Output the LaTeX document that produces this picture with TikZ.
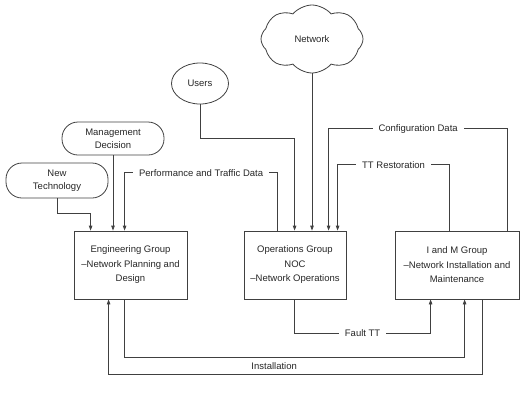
\documentclass[tikz,border=0pt]{standalone}
\usepackage{fontspec}
\setmainfont{Liberation Sans}
\usetikzlibrary{arrows.meta,shapes.geometric,shapes.symbols}

\begin{document}
\begin{tikzpicture}[x=1pt,y=-1pt,
  line/.style={line width=0.8pt, draw=black!75},
  flow/.style={line, -{Triangle[length=5pt,width=3.5pt]}},
  group/.style={line, rectangle, align=center, inner sep=0pt, minimum height=68pt},
  source/.style={line, rounded corners=16pt, minimum width=102pt, align=center, font=\fontsize{9.5}{13}\selectfont},
  lbl/.style={fill=white, inner xsep=6pt, inner ysep=1pt},
  font=\fontsize{9.5}{14.5}\selectfont, text=black!85]
\useasboundingbox (0,0) rectangle (526,402);

% groups
\node[group, minimum width=113pt] (eng) at (130.5,265) {Engineering Group\\--Network Planning and\\Design};
\node[group, minimum width=102pt] (ops) at (295,265) {Operations Group\\NOC\\--Network Operations};
\node[group, minimum width=124pt] (im) at (457,265) {I and M Group\\--Network Installation and\\Maintenance};

% inputs
\node[source, minimum height=33pt] (mgmt) at (113,138.5) {Management\\Decision};
\node[source, minimum height=35pt] (newtech) at (57,180.5) {New\\Technology};
\node[line, ellipse, minimum width=57pt, minimum height=41pt] (users) at (200,83.5) {Users};
\node[line, cloud, cloud puffs=8, cloud puff arc=100, aspect=1.5, minimum width=102pt, minimum height=68pt] (net) at (312,39) {Network};

\draw[flow] (newtech.south) -- ++(0,14.5) -| ([xshift=17pt]eng.north west);
\draw[flow] (mgmt.south) -- (mgmt.south |- eng.north);
\draw[flow] ([xshift=34pt]ops.north west) -- ++(0,-58) -| node[lbl, pos=0.25] {Performance and Traffic Data} ([xshift=51pt]eng.north west);
\draw[flow] (users.south) -- ++(0,34) -| ([xshift=51pt]ops.north west);
\draw[flow] (net.south) -- (net.south |- ops.north);
\draw[flow] ([xshift=113pt]im.north west) -- ++(0,-102) -| node[lbl, pos=0.25] {Configuration Data} ([xshift=85pt]ops.north west);
\draw[flow] ([xshift=55pt]im.north west) -- ++(0,-66) -| node[lbl, pos=0.25] {TT Restoration} ([xshift=94pt]ops.north west);

% feedback
\draw[flow] ([xshift=51pt]ops.south west) -- ++(0,34) -| node[lbl, pos=0.25] {Fault TT} ([xshift=36pt]im.south west);
\draw[flow] ([xshift=51pt]eng.south west) -- ++(0,58) -| node[pos=0.22, below=4pt, inner sep=1pt] {Installation} ([xshift=70pt]im.south west);
\draw[flow] ([xshift=88pt]im.south west) -- ++(0,75) -| ([xshift=35pt]eng.south west);
\end{tikzpicture}
\end{document}
